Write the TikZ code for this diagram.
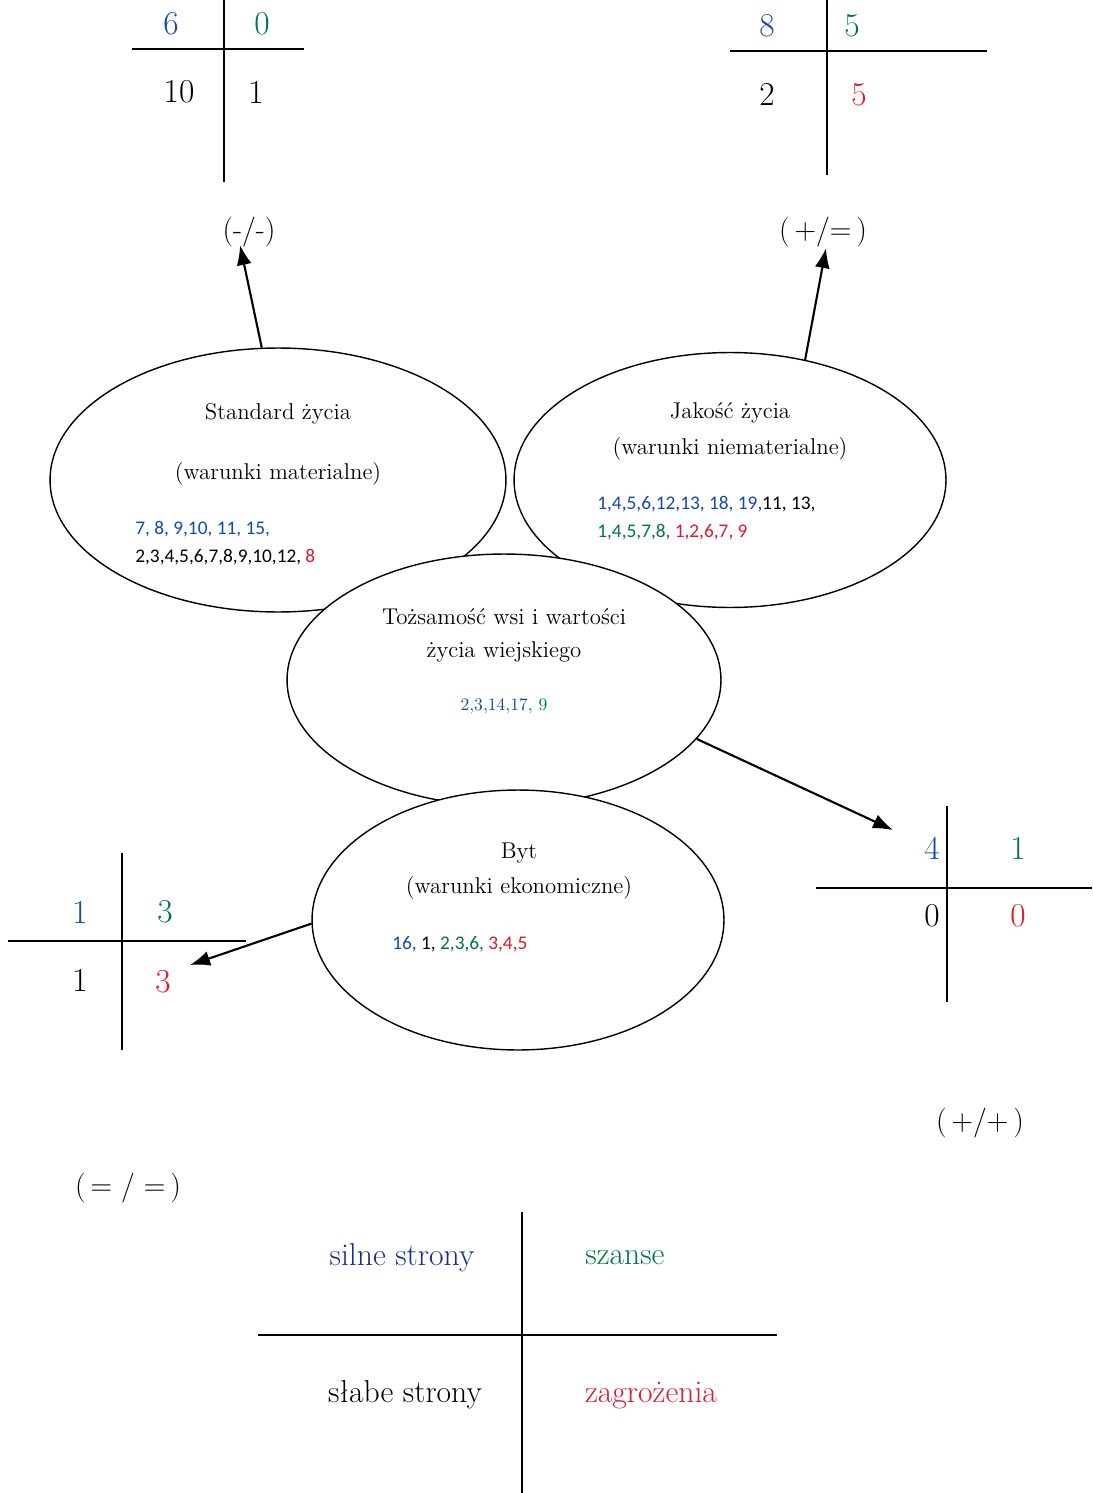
\documentclass[tikz,border=0pt]{standalone}
\usepackage{fontspec}
\newfontfamily\calibri{Carlito}
\usepackage{xcolor}
\usepackage{tikz}
\usetikzlibrary{arrows.meta,positioning,shapes.geometric}
\definecolor{sblue}{RGB}{22,72,172}
\definecolor{sgreen}{RGB}{0,118,62}
\definecolor{sred}{RGB}{220,26,42}
\definecolor{lblue}{RGB}{22,46,140}

\begin{document}
\begin{tikzpicture}[x=0.02cm,y=-0.02cm,>={Latex[length=4mm,width=3mm]}]
\tikzstyle{oval}=[ellipse,draw=black,line width=0.8pt,fill=white,inner sep=0pt]
\tikzstyle{line}=[line width=1.1pt]
\tikzstyle{arr}=[->,line width=1.2pt]
\tikzstyle{num}=[inner sep=0pt,font=\fontsize{19}{22}\selectfont]
\tikzstyle{sign}=[inner sep=0pt,font=\fontsize{17}{20}\selectfont]
\tikzstyle{title}=[inner sep=0pt,font=\fontsize{13}{15}\selectfont]
\tikzstyle{ids}=[inner sep=0pt,anchor=west,font=\calibri\fontsize{11}{13}\selectfont]
\tikzstyle{legend}=[inner sep=0pt,font=\fontsize{18}{21}\selectfont]
\useasboundingbox (0,0) rectangle (1092,1493);

\draw[line] (224,0) -- (224,182);
\draw[line] (132,49) -- (304,49);
\node[num,text=sblue] (tl1) at (171,24) {6};
\node[num,text=sgreen] (tl2) at (262,24) {0};
\node[num] (tl3) at (179,92) {10};
\node[num] (tl4) at (256,92) {1};

\draw[line] (827,0) -- (827,175);
\draw[line] (730,51) -- (987,51);
\node[num,text=sblue] (tr1) at (767,26) {8};
\node[num,text=sgreen] (tr2) at (852,26) {5};
\node[num] (tr3) at (767,94) {2};
\node[num,text=sred] (tr4) at (859,95) {5};

\node[sign] (mm) at (249,232) {(-/-)};
\node[sign] (pe) at (823,232) {(\,+/=\,)};
\node[sign] (pp) at (980,1123) {(\,+/+\,)};
\node[sign] (ee) at (128,1188) {(\,= / =\,)};

\node[oval,minimum width=9.12cm,minimum height=5.28cm] (std) at (278,480) {};
\node[oval,minimum width=8.64cm,minimum height=5.1cm] (jak) at (730,480) {};
\node[oval,minimum width=8.68cm,minimum height=5.04cm] (toz) at (504,680) {};
\node[oval,minimum width=8.24cm,minimum height=5.2cm] (byt) at (518,920) {};

\node[title] (std1) at (278,414) {Standard życia};
\node[title] (std2) at (278,474) {(warunki materialne)};
\node[ids,text=sblue] (std3) at (135,529) {7, 8, 9,10, 11, 15\textcolor{sgreen}{,}};
\node[ids] (std4) at (135,557) {2,3,4,5,6,7,8,9,10,12, \textcolor{sred}{8}};

\node[title] (jak1) at (730,413) {Jakość życia};
\node[title] (jak2) at (730,449) {(warunki niematerialne)};
\node[ids,text=sblue] (jak3) at (597,504) {1,4,5,6,12,13, 18, 19,\textcolor{black}{11, 13,}};
\node[ids,text=sgreen] (jak4) at (597,532) {1,4,5,7,8, \textcolor{sred}{1,2,6,7, 9}};

\node[title] (toz1) at (504,617) {Tożsamość wsi i wartości};
\node[title] (toz2) at (504,652) {życia wiejskiego};
\node[inner sep=0pt,text=sblue] (toz3) at (504,706) {2,3,14,17, \textcolor{sgreen}{9}};

\node[title] (byt1) at (519,853) {Byt};
\node[title] (byt2) at (519,888) {(warunki ekonomiczne)};
\node[ids,text=sblue] (byt3) at (392,944) {16, \textcolor{black}{1,} \textcolor{sgreen}{2,3,6,} \textcolor{sred}{3,4,5}};

\draw[line] (947,806) -- (947,1002);
\draw[line] (816,888) -- (1092,888);
\node[num,text=sblue] (mr1) at (932,848) {4};
\node[num,text=sgreen] (mr2) at (1018,848) {1};
\node[num] (mr3) at (932,916) {0};
\node[num,text=sred] (mr4) at (1018,916) {0};

\draw[line] (122,853) -- (122,1050);
\draw[line] (8,941) -- (246,941);
\node[num,text=sblue] (ml1) at (80,912) {1};
\node[num,text=sgreen] (ml2) at (165,912) {3};
\node[num] (ml3) at (80,980) {1};
\node[num,text=sred] (ml4) at (163,982) {3};

\coordinate (mmtip) at (240,245);
\coordinate (petip) at (826,248);
\coordinate (pptip) at (893,830);
\coordinate (eetip) at (190,965);
\draw[arr] (std.97) -- (mmtip);
\draw[arr] (jak.58) -- (petip);
\draw[arr] (toz.-17) -- (pptip);
\draw[arr] (byt.181) -- (eetip);

\draw[line] (522,1212) -- (522,1493);
\draw[line] (258,1335) -- (777,1335);
\node[legend,text=lblue] (ss) at (402,1258) {silne strony};
\node[legend,text=sgreen] (sz) at (625,1258) {szanse};
\node[legend] (sl) at (405,1395) {słabe strony};
\node[legend,text=sred] (zg) at (651,1396) {zagrożenia};
\end{tikzpicture}
\end{document}
